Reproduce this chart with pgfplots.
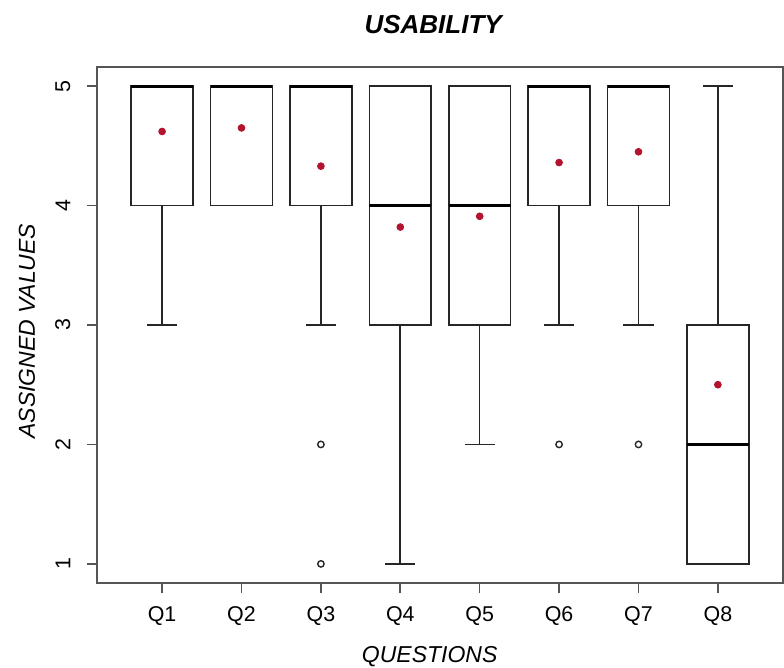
\documentclass[border=0pt]{standalone}
\usepackage{pgfplots}
\pgfplotsset{compat=1.18}
\usepgfplotslibrary{statistics}
\usepackage{fontspec}
\setmainfont{Liberation Sans}
\definecolor{meanred}{HTML}{B3132E}
\definecolor{framegray}{HTML}{555555}
\definecolor{boxline}{HTML}{262626}
\begin{document}
\begin{tikzpicture}
\useasboundingbox (-48.5pt,-42.5pt) rectangle (343.5pt,291.5pt);
\begin{axis}[
  at={(0,0)}, anchor=south west,
  scale only axis, width=343pt, height=258pt,
  xmin=0.18, xmax=8.82, ymin=0.84, ymax=5.16,
  xtick={1,2,3,4,5,6,7,8},
  xticklabels={Q1,Q2,Q3,Q4,Q5,Q6,Q7,Q8},
  ytick={1,2,3,4,5},
  xtick pos=bottom, ytick pos=left,
  tick align=outside, major tick length=5pt,
  every tick/.style={framegray, line width=0.8pt},
  axis line style={framegray, line width=0.8pt},
  /pgf/number format/assume math mode=true,
  tick label style={font=\fontsize{10.7}{12}\selectfont},
  xticklabel shift=3.5pt,
  yticklabel shift=4.75pt,
  yticklabel style={rotate=90, anchor=south},
  title={USABILITY},
  every axis title shift=0pt,
  title style={font=\fontsize{13}{15}\selectfont\bfseries\itshape, at={(axis description cs:0.49,1.082)}, anchor=center},
  xlabel={QUESTIONS},
  xlabel style={font=\fontsize{11.5}{13}\selectfont\itshape, at={(axis description cs:0.485,-0.143)}, anchor=center},
  ylabel={ASSIGNED VALUES},
  ylabel style={font=\fontsize{11.5}{13}\selectfont\itshape, at={(axis description cs:-0.102,0.488)}, anchor=center, rotate=0},
  boxplot/draw direction=y,
  boxplot/box extend=0.78,
  boxplot/whisker extend=0.38,
  boxplot/every box/.style={draw=boxline, line width=0.8pt},
  boxplot/every whisker/.style={draw=boxline, line width=0.8pt},
  boxplot/every median/.style={draw=black, line width=1.5pt},
]
% Q1
\addplot[boxplot prepared={draw position=1, lower whisker=3, lower quartile=4, median=5, upper quartile=5, upper whisker=5}, draw=boxline] coordinates {};
% Q2
\addplot[boxplot prepared={draw position=2, lower whisker=4, lower quartile=4, median=5, upper quartile=5, upper whisker=5}, draw=boxline] coordinates {};
% Q3
\addplot[boxplot prepared={draw position=3, lower whisker=3, lower quartile=4, median=5, upper quartile=5, upper whisker=5}, draw=boxline, mark=o, mark size=1.6pt, mark options={line width=0.7pt, draw=boxline}] table[row sep=\\, y index=0] {2\\ 1\\};
% Q4
\addplot[boxplot prepared={draw position=4, lower whisker=1, lower quartile=3, median=4, upper quartile=5, upper whisker=5}, draw=boxline] coordinates {};
% Q5
\addplot[boxplot prepared={draw position=5, lower whisker=2, lower quartile=3, median=4, upper quartile=5, upper whisker=5}, draw=boxline] coordinates {};
% Q6
\addplot[boxplot prepared={draw position=6, lower whisker=3, lower quartile=4, median=5, upper quartile=5, upper whisker=5}, draw=boxline, mark=o, mark size=1.6pt, mark options={line width=0.7pt, draw=boxline}] table[row sep=\\, y index=0] {2\\};
% Q7
\addplot[boxplot prepared={draw position=7, lower whisker=3, lower quartile=4, median=5, upper quartile=5, upper whisker=5}, draw=boxline, mark=o, mark size=1.6pt, mark options={line width=0.7pt, draw=boxline}] table[row sep=\\, y index=0] {2\\};
% Q8
\addplot[boxplot prepared={draw position=8, lower whisker=1, lower quartile=1, median=2, upper quartile=3, upper whisker=5}, draw=boxline] coordinates {};
% means
\addplot[only marks, mark=*, mark size=1.7pt, color=meanred] coordinates {
  (1,4.62) (2,4.65) (3,4.33) (4,3.82) (5,3.91) (6,4.36) (7,4.45) (8,2.50)
};
\end{axis}
\end{tikzpicture}
\end{document}
